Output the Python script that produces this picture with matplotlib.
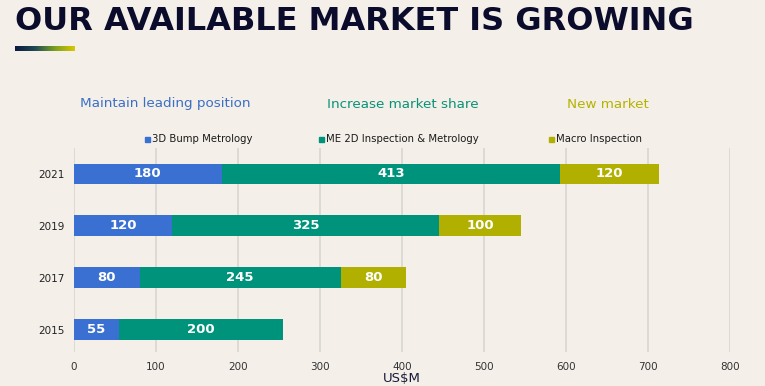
import matplotlib
matplotlib.use("Agg")
import matplotlib.pyplot as plt
import numpy as np
from matplotlib.patches import Rectangle
from matplotlib.colors import LinearSegmentedColormap

years = ["2015", "2017", "2019", "2021"]
bump_3d = [55, 80, 120, 180]
me_2d = [200, 245, 325, 413]
macro = [0, 80, 100, 120]
series_names = ["3D Bump Metrology", "ME 2D Inspection & Metrology", "Macro Inspection"]
headings = ["Maintain leading position", "Increase market share", "New market"]
x_ticks = [0, 100, 200, 300, 400, 500, 600, 700, 800]

BG = "#f4f0e9"
C_BLUE = "#3a70d2"
C_TEAL = "#00937b"
C_OLIVE = "#b1b000"
HEAD_COLS = ["#3b6fc6", "#0a9278", "#b3b300"]

W, H = 765, 386
fig = plt.figure(figsize=(W / 100, H / 100), dpi=100, facecolor=BG)
plt.rcParams['font.family'] = ['DejaVu Sans']

ax = fig.add_axes([74 / W, 1 - 352 / H, (730 - 74) / W, (352 - 148) / H])
ax.set_facecolor(BG)

y = np.arange(len(years))
h = 0.4
left = np.zeros(len(years))
for vals, col in zip([bump_3d, me_2d, macro], [C_BLUE, C_TEAL, C_OLIVE]):
    vals = np.array(vals, dtype=float)
    bars = ax.barh(y, vals, left=left, height=h, color=col, zorder=3)
    for b, v, l in zip(bars, vals, left):
        if v > 0:
            ax.text(l + v / 2, b.get_y() + h / 2, f"{int(v)}", ha="center", va="center",
                    color="white", fontsize=9.5, fontweight="bold", zorder=4)
    left = left + vals

ax.set_xlim(0, 800)
ax.set_ylim(-0.43, 3.5)
ax.set_xticks(x_ticks)
ax.set_xticklabels([str(t) for t in x_ticks], fontsize=7.5, color="#333333")
ax.set_yticks(y)
ax.set_yticklabels(years, fontsize=7.5, color="#222222")
ax.tick_params(axis="both", length=0)
ax.tick_params(axis="y", pad=7)
ax.tick_params(axis="x", pad=7)
ax.grid(axis="x", color="#d9d5cf", linewidth=1.2, zorder=0)
for s in ax.spines.values():
    s.set_visible(False)
ax.set_xlabel("US$M", fontsize=9.5, color="#1a1a3a", labelpad=0)

# Title
fig.text(15 / W, 1 - 21 / H, "OUR AVAILABLE MARKET IS GROWING", fontsize=23,
         fontweight="bold", color="#0b0b2b", ha="left", va="center")

# gradient bar
gax = fig.add_axes([15 / W, 1 - 51 / H, 60 / W, 5 / H])
cmap = LinearSegmentedColormap.from_list("g", ["#0b1a40", "#1f4a55", "#7aa020", "#d8c800"])
gax.imshow(np.linspace(0, 1, 100)[None, :], aspect="auto", cmap=cmap)
gax.axis("off")

# headings
for txt, xpix, col in zip(headings, [80, 327, 567], HEAD_COLS):
    fig.text(xpix / W, 1 - 104 / H, txt, fontsize=9.7, color=col, ha="left", va="center")

# legend
for name, xpix, col in zip(series_names, [145, 319, 549], [C_BLUE, C_TEAL, C_OLIVE]):
    fig.patches.append(Rectangle((xpix / W, 1 - 142 / H), 5 / W, 5 / H, transform=fig.transFigure,
                                 color=col, figure=fig))
    fig.text((xpix + 7) / W, 1 - 139 / H, name, fontsize=7.3, color="#1a1a1a", ha="left", va="center")

fig.savefig("out.png", dpi=100, facecolor=BG)
